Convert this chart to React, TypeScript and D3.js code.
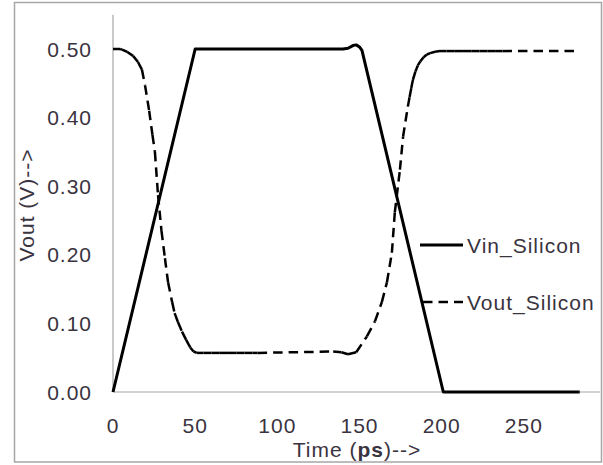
import React from "react";
import * as d3 from "d3";

// ---- data ----
const vinTime = [0, 50, 140, 143, 146, 148, 150, 151.5, 201, 284];
const vinValue = [0, 0.5, 0.5, 0.501, 0.505, 0.506, 0.503, 0.498, 0, 0];

const voutTime = [
  0, 4.3, 5.5, 8.5, 12.2, 15.2, 17.6,
  19.5, 22, 24, 25.5, 27.4, 29.5, 31.6, 33.5, 36,
  37.5, 39.5, 42, 44.5, 47, 49, 51, 55, 60, 65, 70, 75, 80, 85, 88,
  134, 139, 143, 148, 154.5, 159.4, 163.6, 166.7, 169.7, 171.5, 174.6, 176.5, 179.4,
  180.5, 181.5, 182.5, 184, 185.5, 187, 189, 191, 193, 196, 199, 203, 208, 213, 218, 223, 228, 233, 237,
  284,
];
const voutValue = [
  0.5, 0.5, 0.499, 0.496, 0.49, 0.481, 0.47,
  0.447, 0.41, 0.375, 0.35, 0.287, 0.235, 0.195, 0.16, 0.131,
  0.115, 0.102, 0.088, 0.076, 0.065, 0.059, 0.057, 0.057, 0.057, 0.057, 0.057, 0.057, 0.057, 0.057, 0.057,
  0.059, 0.058, 0.055, 0.058, 0.081, 0.103, 0.131, 0.16, 0.203, 0.262, 0.324, 0.372, 0.416,
  0.43, 0.443, 0.455, 0.467, 0.476, 0.482, 0.488, 0.492, 0.494, 0.496, 0.497, 0.497, 0.497, 0.497, 0.497, 0.497, 0.497, 0.497, 0.497,
  0.497,
];

const xTicks = [0, 50, 100, 150, 200, 250];
const yTicks = [0, 0.1, 0.2, 0.3, 0.4, 0.5];
const seriesNames = ["Vin_Silicon", "Vout_Silicon"];

const W = 603;
const H = 465;
const FONT = "'Liberation Sans', Arial, sans-serif";
const TEXT = "#3a3340";
const AXIS = "#a6a6a6";

export default function App() {
  const x = d3.scaleLinear().domain([0, 300]).range([113, 606]);
  const y = d3.scaleLinear().domain([0, 0.55]).range([392, 14.7]);

  const vin = vinTime.map((t, i) => [t, vinValue[i]] as [number, number]);
  const vout = voutTime.map((t, i) => [t, voutValue[i]] as [number, number]);
  const line = d3
    .line<[number, number]>()
    .x((d) => x(d[0]))
    .y((d) => y(d[1]));

  const voutSegs = d3.pairs(vout);

  const textStyle = { fontFamily: FONT, fontSize: 21, fill: TEXT, letterSpacing: 1 } as const;

  return (
    <svg
      width={W}
      height={H}
      style={{ position: "absolute", left: 0, top: 0, background: "#fff" }}
    >
      <rect x={0} y={0} width={W} height={H} fill="#fff" />
      <rect x={14.5} y={2.5} width={587} height={459.5} fill="none" stroke={AXIS} strokeWidth={1.5} />

      {/* axes */}
      <line x1={x(0)} x2={x(0)} y1={y(0.55)} y2={y(0)} stroke={AXIS} strokeWidth={1.2} />
      <line x1={x(0)} x2={600} y1={y(0)} y2={y(0)} stroke={AXIS} strokeWidth={1.2} />

      {/* y tick labels */}
      {yTicks.map((v) => (
        <text key={v} x={92} y={y(v) + 7.5} textAnchor="end" {...textStyle}>
          {d3.format(".2f")(v)}
        </text>
      ))}
      {/* x tick labels */}
      {xTicks.map((v) => (
        <text key={v} x={x(v)} y={433} textAnchor="middle" {...textStyle}>
          {v}
        </text>
      ))}

      {/* axis titles */}
      <text
        transform={`translate(34,205) rotate(-90)`}
        textAnchor="middle"
        {...textStyle}
      >
        Vout (V)--&gt;
      </text>
      <text x={357} y={457} textAnchor="middle" {...textStyle}>
        Time (<tspan fontWeight="bold">ps</tspan>)--&gt;
      </text>

      {/* Vout dashed, each segment restarting its dash pattern */}
      {voutSegs.map(([a, b], i) => (
        <line
          key={i}
          x1={x(a[0])}
          y1={y(a[1])}
          x2={x(b[0])}
          y2={y(b[1])}
          stroke="#000"
          strokeWidth={2.5}
          strokeDasharray="9.5,6"
          strokeLinecap="butt"
        />
      ))}

      {/* Vin solid */}
      <path d={line(vin) || ""} fill="none" stroke="#000" strokeWidth={3} strokeLinejoin="round" />

      {/* legend */}
      <line x1={420} x2={463} y1={245} y2={245} stroke="#000" strokeWidth={3} />
      <text x={467} y={253} {...textStyle}>
        {seriesNames[0]}
      </text>
      <line x1={423} x2={463} y1={302} y2={302} stroke="#000" strokeWidth={2.5} strokeDasharray="9.5,6" />
      <text x={467} y={310} {...textStyle}>
        {seriesNames[1]}
      </text>
    </svg>
  );
}
